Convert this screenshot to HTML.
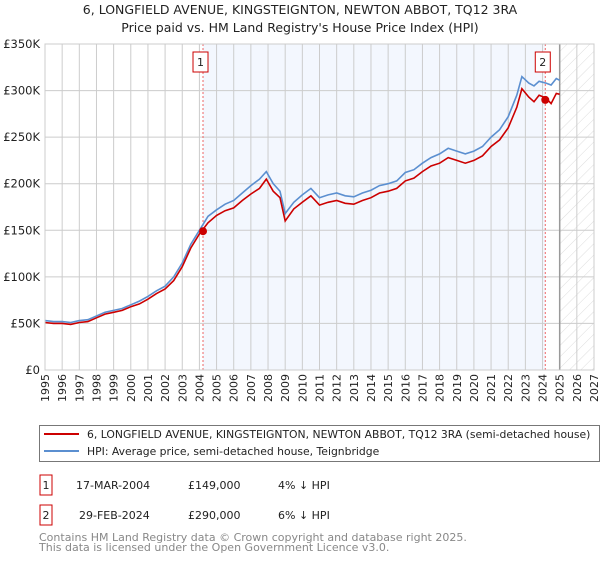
<!DOCTYPE html>
<html><head><meta charset="utf-8">
<style>
body{margin:0;background:#fff;font-family:"DejaVu Sans","Liberation Sans",sans-serif;}
svg text{font-family:"DejaVu Sans","Liberation Sans",sans-serif;}
</style></head>
<body>
<svg id="chart" width="600" height="560" viewBox="0 0 600 560" xmlns="http://www.w3.org/2000/svg">
<defs>
<pattern id="hatch" patternUnits="userSpaceOnUse" width="8" height="8" patternTransform="rotate(45)">
<line x1="0" y1="0" x2="0" y2="8" stroke="#d4d4d4" stroke-width="0.8"/>
</pattern>
</defs>
<text x="300" y="14" text-anchor="middle" font-size="12.5" fill="#222">6, LONGFIELD AVENUE, KINGSTEIGNTON, NEWTON ABBOT, TQ12 3RA</text>
<text x="300" y="32" text-anchor="middle" font-size="12.5" fill="#222">Price paid vs. HM Land Registry's House Price Index (HPI)</text>
<g id="plot"></g>
<rect x="39.5" y="425.5" width="560" height="36" fill="#fff" stroke="#777"/>
<line x1="44" y1="434" x2="79" y2="434" stroke="#cc0000" stroke-width="2"/>
<text x="87" y="438" font-size="10.8" fill="#222">6, LONGFIELD AVENUE, KINGSTEIGNTON, NEWTON ABBOT, TQ12 3RA (semi-detached house)</text>
<line x1="44" y1="451" x2="79" y2="451" stroke="#5b8fd0" stroke-width="2"/>
<text x="87" y="455" font-size="10.8" fill="#222">HPI: Average price, semi-detached house, Teignbridge</text>
<g font-size="11" fill="#222">
<rect x="40" y="475" width="12" height="20" fill="#fff" stroke="#cc0000"/>
<text x="46" y="489" text-anchor="middle">1</text>
<text x="76" y="489">17-MAR-2004</text>
<text x="188" y="489">£149,000</text>
<text x="278" y="489">4% ↓ HPI</text>
</g>
<g font-size="11" fill="#222">
<rect x="40" y="505" width="12" height="20" fill="#fff" stroke="#cc0000"/>
<text x="46" y="519" text-anchor="middle">2</text>
<text x="79" y="519">29-FEB-2024</text>
<text x="188" y="519">£290,000</text>
<text x="278" y="519">6% ↓ HPI</text>
</g>
<text x="39" y="541" font-size="11" fill="#888">Contains HM Land Registry data © Crown copyright and database right 2025.</text>
<text x="39" y="551" font-size="11" fill="#888">This data is licensed under the Open Government Licence v3.0.</text>
</svg>
<script>
const years=[1995,1995.5,1996,1996.5,1997,1997.5,1998,1998.5,1999,1999.5,2000,2000.5,2001,2001.5,2002,2002.5,2003,2003.5,2004,2004.5,2005,2005.5,2006,2006.5,2007,2007.5,2007.9,2008.3,2008.7,2009,2009.5,2010,2010.5,2011,2011.5,2012,2012.5,2013,2013.5,2014,2014.5,2015,2015.5,2016,2016.5,2017,2017.5,2018,2018.5,2019,2019.5,2020,2020.5,2021,2021.5,2022,2022.5,2022.8,2023.2,2023.5,2023.8,2024.2,2024.5,2024.8,2025];
const hpi=[53,52,52,51,53,54,58,62,64,66,70,74,79,85,90,100,115,135,150,165,172,178,182,190,198,205,213,200,192,168,180,188,195,185,188,190,187,186,190,193,198,200,203,212,215,222,228,232,238,235,232,235,240,250,258,272,295,315,308,305,310,308,306,313,311];
const price=[51,50,50,49,51,52,56,60,62,64,68,71,76,82,87,96,111,131,146,158,166,171,174,182,189,195,205,192,185,160,173,180,187,177,180,182,179,178,182,185,190,192,195,203,206,213,219,222,228,225,222,225,230,240,247,260,282,302,293,288,295,292,286,297,296];
const saleYears=[2004.21,2024.16];
const saleValues=[149,290];
const yTicks=[0,50,100,150,200,250,300,350];
const yTickLabels=["£0","£50K","£100K","£150K","£200K","£250K","£300K","£350K"];
const xTicks=[1995,1996,1997,1998,1999,2000,2001,2002,2003,2004,2005,2006,2007,2008,2009,2010,2011,2012,2013,2014,2015,2016,2017,2018,2019,2020,2021,2022,2023,2024,2025,2026,2027];

const X0=45,X1=594,Y0=370,Y1=44;
const xs=y=>X0+(y-1995)/(2027-1995)*(X1-X0);
const ys=v=>Y0-v/350*(Y0-Y1);
const NS="http://www.w3.org/2000/svg";
const g=document.getElementById('plot');
function mk(t,a,p){const e=document.createElementNS(NS,t);for(const k in a)e.setAttribute(k,a[k]);(p||g).appendChild(e);return e;}

const bg=mk('rect',{x:X0,y:Y1,width:X1-X0,height:Y0-Y1,fill:'#fff'});


const sh=mk('rect',{x:xs(saleYears[0]),y:Y1,width:xs(saleYears[1])-xs(saleYears[0]),height:Y0-Y1,fill:'#eef3fd',opacity:0.7});


const ht=mk('rect',{x:xs(2025),y:Y1,width:X1-xs(2025),height:Y0-Y1,fill:'url(#hatch)'});



xTicks.forEach(t=>{
  const l=mk('line',{x1:xs(t),x2:xs(t),y1:Y1,y2:Y0,stroke:'#ccc','stroke-width':1});
  
  
  const tx=mk('text',{x:0,y:0,'font-size':11,fill:'#222','text-anchor':'end',transform:`translate(${xs(t)+4},${Y0+4}) rotate(-90)`});
  tx.textContent=t;
  
  
});
yTicks.forEach((t,i)=>{
  const l=mk('line',{x1:X0,x2:X1,y1:ys(t),y2:ys(t),stroke:'#ccc','stroke-width':1});
  
  
  const tx=mk('text',{x:X0-5,y:ys(t)+4,'font-size':11.5,fill:'#222','text-anchor':'end'});
  tx.textContent=yTickLabels[i];
  
  
});
const nowl=mk('line',{x1:xs(2025),x2:xs(2025),y1:Y1,y2:Y0,stroke:'#999','stroke-width':1.5});



saleYears.forEach((s,i)=>{
  const l=mk('line',{x1:xs(s),x2:xs(s),y1:Y1,y2:Y0,stroke:'#e66','stroke-width':1,'stroke-dasharray':'2,2'});
  
  
  const b=mk('rect',{x:xs(s)-10,y:52,width:15,height:20,fill:'#fff',stroke:'#cc0000'});
  
  
  const t=mk('text',{x:xs(s)-2.5,y:66,'font-size':11,fill:'#222','text-anchor':'middle'});
  t.textContent=String(i+1);
  
  
});

function pathOf(arr){return arr.map((v,i)=>(i?'L':'M')+xs(years[i]).toFixed(1)+','+ys(v).toFixed(1)).join('');}
const hp=mk('path',{d:pathOf(hpi),fill:'none',stroke:'#5b8fd0','stroke-width':1.6});


const pp=mk('path',{d:pathOf(price),fill:'none',stroke:'#cc0000','stroke-width':1.6});


saleYears.forEach((s,i)=>{
  const c=mk('circle',{cx:xs(s),cy:ys(saleValues[i]),r:4,fill:'#cc0000'});
  
  
});
const fr=mk('rect',{x:X0,y:Y1,width:X1-X0,height:Y0-Y1,fill:'none',stroke:'#ccc'});


</script>
</body></html>
